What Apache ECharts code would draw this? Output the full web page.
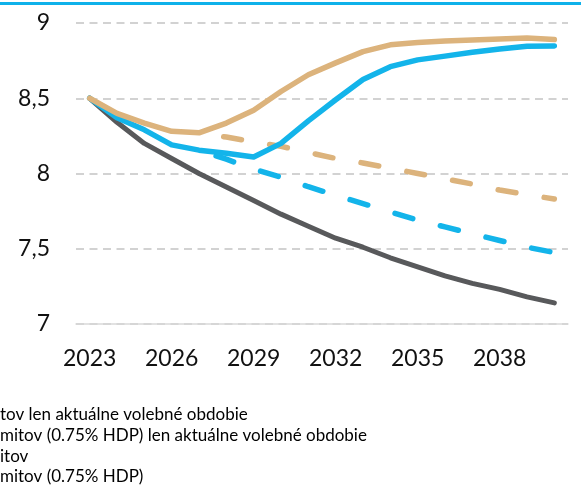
<!DOCTYPE html>
<html>
<head>
<meta charset="utf-8">
<script src="https://cdn.jsdelivr.net/npm/echarts@6/dist/echarts.min.js"></script>
<style>
html,body{margin:0;padding:0;background:#fff;}
#chart{width:581px;height:486px;}
</style>
</head>
<body>
<div id="chart"></div>
<script>
const years = ['2023','2024','2025','2026','2027','2028','2029','2030','2031','2032','2033','2034','2035','2036','2037','2038','2039','2040'];
const baseline = [8.50, 8.34, 8.20, 8.10, 8.00, 7.91, 7.82, 7.73, 7.65, 7.57, 7.51, 7.44, 7.38, 7.32, 7.27, 7.23, 7.18, 7.14];
const tanSolid = [8.50, 8.40, 8.335, 8.28, 8.27, 8.335, 8.42, 8.545, 8.656, 8.735, 8.81, 8.855, 8.87, 8.88, 8.887, 8.893, 8.90, 8.89];
const blueSolid = [8.50, 8.37, 8.29, 8.19, 8.155, 8.135, 8.11, 8.20, 8.35, 8.49, 8.625, 8.71, 8.755, 8.78, 8.805, 8.827, 8.845, 8.848];
const tanDash = [null, null, null, null, 8.27, 8.242, 8.21, 8.18, 8.14, 8.10, 8.07, 8.035, 8.00, 7.965, 7.93, 7.89, 7.86, 7.83];
const blueDash = [null, null, null, null, 8.155, 8.095, 8.03, 7.975, 7.912, 7.855, 7.80, 7.745, 7.69, 7.645, 7.60, 7.555, 7.51, 7.475];
const legendTexts = [
  'tov len aktuálne volebné obdobie',
  'mitov (0.75% HDP) len aktuálne volebné obdobie',
  'itov',
  'mitov (0.75% HDP)'
];

const TAN = '#dcb37c', BLUE = '#13b4ea', GRAY = '#58595b';
const chart = echarts.init(document.getElementById('chart'));

const legendGraphics = legendTexts.map((t, i) => ({
  type: 'text', left: 0, top: 406.5 + i * 20.6,
  style: { text: t, font: '17px Lato', fill: '#000' }
}));

chart.setOption({
  animation: false,
  grid: { left: 76, right: 13, top: 23, bottom: 162, containLabel: false },
  xAxis: {
    type: 'category', data: years, boundaryGap: true,
    axisTick: { show: false },
    axisLine: { lineStyle: { color: '#d9d9d9', width: 1.5 } },
    axisLabel: { interval: 2, color: '#111', fontFamily: 'Lato', fontSize: 23, margin: 23 },
    splitLine: { show: false }
  },
  yAxis: {
    type: 'value', min: 7, max: 9, interval: 0.5,
    axisLine: { show: false }, axisTick: { show: false },
    axisLabel: { color: '#111', fontFamily: 'Lato', fontSize: 23, margin: 26,
      formatter: v => String(v).replace('.', ',') },
    splitLine: { lineStyle: { color: '#c4c4c4', width: 1.5, type: [8, 5.5] } }
  },
  graphic: [
    { type: 'rect', shape: { x: 0, y: 2, width: 581, height: 3 }, style: { fill: '#0fb1ea' } },
    ...legendGraphics
  ],
  series: [
    { name: 'základ', type: 'line', data: baseline, symbol: 'none', z: 2,
      lineStyle: { color: GRAY, width: 5, cap: 'round', join: 'round' } },
    { name: legendTexts[0], type: 'line', data: tanDash, symbol: 'none', z: 3,
      lineStyle: { color: TAN, width: 5.5, type: [18, 28.6], dashOffset: 21.6, cap: 'round' } },
    { name: legendTexts[1], type: 'line', data: blueDash, symbol: 'none', z: 4,
      lineStyle: { color: BLUE, width: 5.5, type: [18.5, 28.5], dashOffset: 29, cap: 'round' } },
    { name: legendTexts[3], type: 'line', data: blueSolid, symbol: 'none', z: 5,
      lineStyle: { color: BLUE, width: 5.5, cap: 'round', join: 'round' } },
    { name: legendTexts[2], type: 'line', data: tanSolid, symbol: 'none', z: 6,
      lineStyle: { color: TAN, width: 5.5, cap: 'round', join: 'round' } }
  ]
});
</script>
</body>
</html>
